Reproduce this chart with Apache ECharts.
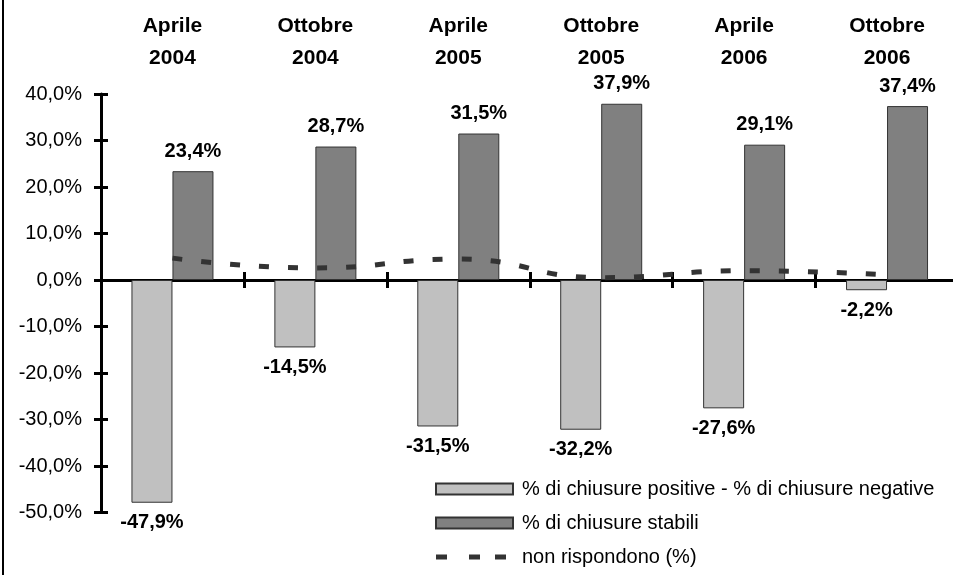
<!DOCTYPE html>
<html>
<head>
<meta charset="utf-8">
<script src="https://cdn.jsdelivr.net/npm/echarts@6/dist/echarts.min.js"></script>
<style>
  html, body { margin: 0; padding: 0; background: #fff; }
  #chart { width: 953px; height: 575px; }
</style>
</head>
<body>
<div id="chart"></div>
<script>
// dati
const categories = ['Aprile 2004', 'Ottobre 2004', 'Aprile 2005', 'Ottobre 2005', 'Aprile 2006', 'Ottobre 2006']
const saldo = [-47.9, -14.5, -31.5, -32.2, -27.6, -2.2]
const stabili = [23.4, 28.7, 31.5, 37.9, 29.1, 37.4]
const nonRispondono = [4.7, 2.6, 4.5, 0.5, 2.0, 1.1]
const yTicks = [-50, -40, -30, -20, -10, 0, 10, 20, 30, 40]

const font = 'Liberation Sans, Arial, sans-serif'
const fmt = (v) => v.toFixed(1).replace('.', ',') + '%'

// icona tratteggiata per la legenda della linea (box 77x11)
const dashIcon = 'path://M0,0M77,11M0,3h11v5h-11zM33,3h11v5h-11zM59,3h11v5h-11z'

let chart = echarts.init(document.getElementById('chart'))

const labelStyle = {
  show: true,
  position: 'outside',
  distance: 10,
  color: '#000',
  fontFamily: font,
  fontWeight: 'bold',
  fontSize: 20,
  formatter: (p) => fmt(p.value),
}

let option = {
  animation: false,
  backgroundColor: '#fff',
  textStyle: { fontFamily: font },
  grid: {
    left: 101,
    right: -5.5,
    top: 94,
    bottom: 62.5,
    containLabel: false,
    outerBoundsMode: 'none',
  },
  legend: {
    orient: 'vertical',
    left: 430,
    top: 474,
    height: 110,
    itemWidth: 77,
    itemHeight: 11,
    itemGap: 14,
    textStyle: {
      color: '#000',
      fontFamily: font,
      fontSize: 20,
      lineHeight: 20,
      padding: [0, 0, 0, 4],
    },
    data: [
      { name: '% di chiusure positive - % di chiusure negative', icon: 'rect' },
      { name: '% di chiusure stabili', icon: 'rect' },
      { name: 'non rispondono (%)', icon: dashIcon, itemStyle: { color: '#333', borderWidth: 0 } },
    ],
  },
  xAxis: [
    {
      // asse sullo zero, tacche verso il basso
      type: 'category',
      data: categories,
      position: 'bottom',
      axisLine: { onZero: true, lineStyle: { color: '#000', width: 3 } },
      axisTick: { show: true, interval: 0, length: 8, lineStyle: { color: '#000', width: 3 } },
      axisLabel: { show: false },
      splitLine: { show: false },
    },
    {
      // etichette delle categorie in alto
      type: 'category',
      data: categories,
      position: 'top',
      axisLine: { show: false, onZero: false },
      axisTick: { show: false },
      axisLabel: {
        interval: 0,
        margin: 20,
        color: '#000',
        fontFamily: font,
        fontWeight: 'bold',
        fontSize: 21,
        lineHeight: 32,
        formatter: (v) => v.replace(' ', '\n'),
      },
      splitLine: { show: false },
    },
    {
      // tacche verso l'alto
      type: 'category',
      data: categories,
      position: 'bottom',
      axisLine: { show: false, onZero: true },
      axisTick: { show: true, inside: true, interval: 0, length: 8, lineStyle: { color: '#000', width: 3 } },
      axisLabel: { show: false },
      splitLine: { show: false },
    },
  ],
  yAxis: [
    {
      type: 'value',
      min: yTicks[0],
      max: yTicks[yTicks.length - 1],
      interval: 10,
      position: 'left',
      axisLine: { show: true, onZero: false, lineStyle: { color: '#000', width: 3 } },
      axisTick: { show: true, length: 7, lineStyle: { color: '#000', width: 3 } },
      axisLabel: {
        margin: 19,
        color: '#000',
        fontFamily: font,
        fontSize: 20,
        formatter: (v) => fmt(v),
      },
      splitLine: { show: false },
    },
    {
      type: 'value',
      min: yTicks[0],
      max: yTicks[yTicks.length - 1],
      interval: 10,
      position: 'left',
      axisLine: { show: false, onZero: false },
      axisTick: { show: true, inside: true, length: 7, lineStyle: { color: '#000', width: 3 } },
      axisLabel: { show: false },
      splitLine: { show: false },
    },
  ],
  series: [
    {
      name: '% di chiusure positive - % di chiusure negative',
      type: 'bar',
      barWidth: 41,
      barGap: '0%',
      itemStyle: { color: '#C0C0C0', borderColor: '#333', borderWidth: 1 },
      label: labelStyle,
      data: saldo,
    },
    {
      name: '% di chiusure stabili',
      type: 'bar',
      barWidth: 41,
      barGap: '0%',
      itemStyle: { color: '#808080', borderColor: '#333', borderWidth: 1 },
      label: labelStyle,
      data: stabili,
    },
    {
      name: 'non rispondono (%)',
      type: 'line',
      smooth: 0.5,
      symbol: 'none',
      z: 5,
      lineStyle: { color: '#333', width: 5, type: [10, 19] },
      itemStyle: { color: '#333' },
      data: nonRispondono,
    },
  ],
  graphic: [
    {
      type: 'line',
      shape: { x1: 3, y1: 0, x2: 3, y2: 575 },
      style: { stroke: '#000', lineWidth: 2 },
    },
  ],
}

chart.setOption(option)
</script>
</body>
</html>
